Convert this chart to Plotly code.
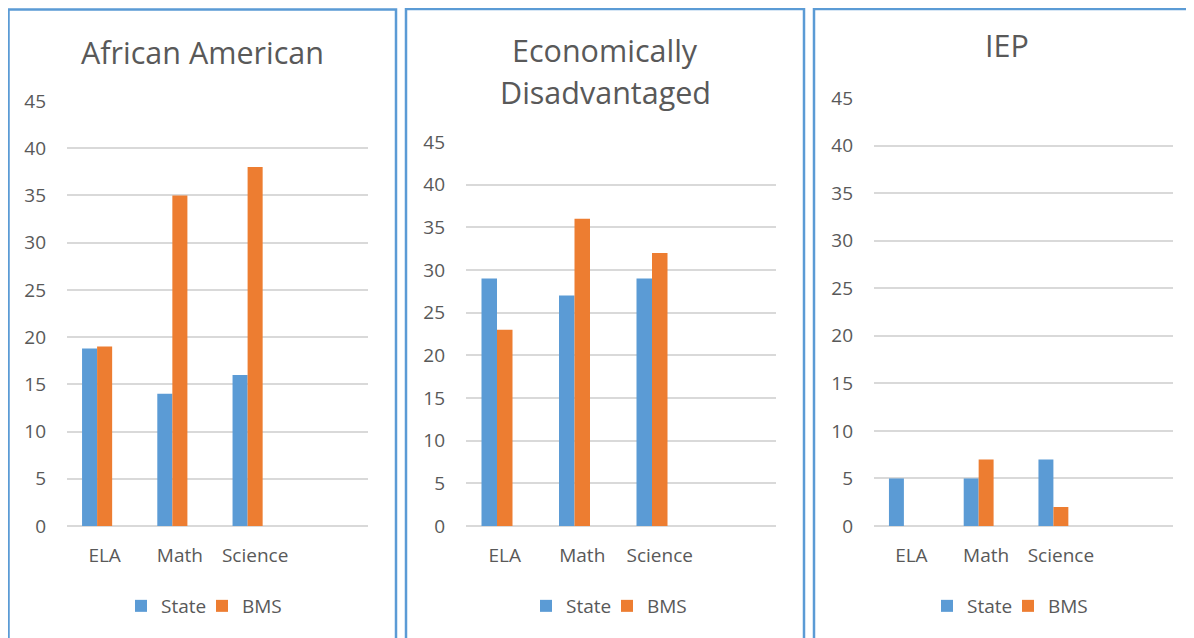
import plotly.graph_objects as go

W, H = 1194, 638
OFF = 8  # page body margin, reference pixels -> paper pixels

subjects = ["ELA", "Math", "Science"]

afam_state = [18.8, 14, 16]
afam_bms = [19, 35, 38]
econ_state = [29, 27, 29]
econ_bms = [23, 36, 32]
iep_state = [5, 5, 7]
iep_bms = [0, 7, 2]

y_ticks = [0, 5, 10, 15, 20, 25, 30, 35, 40, 45]

blue = "#5B9BD5"
orange = "#ED7D31"
grey = "#595959"
grid = "#D9D9D9"
font = "Open Sans"


def fx(px):
    return (px - OFF) / W


def fy(py):
    return 1 - (py - OFF) / H


# pixel geometry
panels = [
    dict(px0=67, px1=368, ptop=101, bx0=8.5, bx1=396, btop=9.5,
         titles=[("African American", 52)], tx=202, lx=202),
    dict(px0=466, px1=776, ptop=142, bx0=406, bx1=804, btop=9,
         titles=[("Economically", 50), ("Disadvantaged", 92)], tx=605, lx=607),
    dict(px0=874, px1=1173, ptop=98, bx0=814, bx1=1210, btop=9,
         titles=[("IEP", 45)], tx=1007, lx=1008),
]
pbottom = 526

data = [(afam_state, afam_bms), (econ_state, econ_bms), (iep_state, iep_bms)]

# excel leaves room for a third (empty) slot in each group
bar_w = 0.2
bar_off = {"State": -0.3, "BMS": -0.1}

fig = go.Figure()
layout = {}
shapes = []
annotations = []

for i, (p, (st, bm)) in enumerate(zip(panels, data)):
    n = "" if i == 0 else str(i + 1)
    leg = "legend" + n
    for name, vals, col in [("State", st, blue), ("BMS", bm, orange)]:
        fig.add_trace(go.Bar(
            x=subjects, y=vals, name=name, marker_color=col,
            marker_line_width=0, xaxis="x" + n, yaxis="y" + n,
            width=bar_w, offset=bar_off[name], legend=leg,
        ))
    layout["xaxis" + n] = dict(
        domain=[fx(p["px0"]), fx(p["px1"])], anchor="y" + n,
        range=[-0.5, 3.5], showgrid=False, showline=False, ticks="",
        tickfont=dict(family=font, size=19, color=grey),
        ticklabelstandoff=16, automargin=False, fixedrange=True,
    )
    layout["yaxis" + n] = dict(
        domain=[fy(pbottom), fy(p["ptop"])], anchor="x" + n,
        range=[0, 45], tickvals=y_ticks, showgrid=True, gridcolor=grid,
        gridwidth=2, zeroline=True, zerolinecolor=grid, zerolinewidth=2,
        showline=False, ticks="",
        tickfont=dict(family=font, size=19, color=grey),
        ticklabelstandoff=20, automargin=False, fixedrange=True,
    )
    layout[leg] = dict(
        orientation="h", x=fx(p["lx"]), y=fy(606),
        xanchor="center", yanchor="middle",
        font=dict(family=font, size=19, color=grey),
        itemwidth=30, entrywidth=36, tracegroupgap=0,
        bgcolor="rgba(0,0,0,0)",
    )
    shapes.append(dict(
        type="rect", xref="paper", yref="paper",
        x0=fx(p["bx0"]), x1=fx(p["bx1"]),
        y0=-0.05, y1=fy(p["btop"]),
        line=dict(color=blue, width=2.5), fillcolor="rgba(0,0,0,0)",
        layer="above",
    ))
    for txt, ty in p["titles"]:
        annotations.append(dict(
            text=txt, xref="paper", yref="paper",
            x=fx(p["tx"]), y=fy(ty), xanchor="center", yanchor="middle",
            showarrow=False, font=dict(family=font, size=30.5, color=grey),
        ))

fig.update_layout(
    **layout,
    width=W, height=H,
    margin=dict(l=0, r=0, t=0, b=0),
    paper_bgcolor="white", plot_bgcolor="white",
    barmode="overlay",
    shapes=shapes, annotations=annotations,
    showlegend=True,
)

fig.write_html("out.html")
